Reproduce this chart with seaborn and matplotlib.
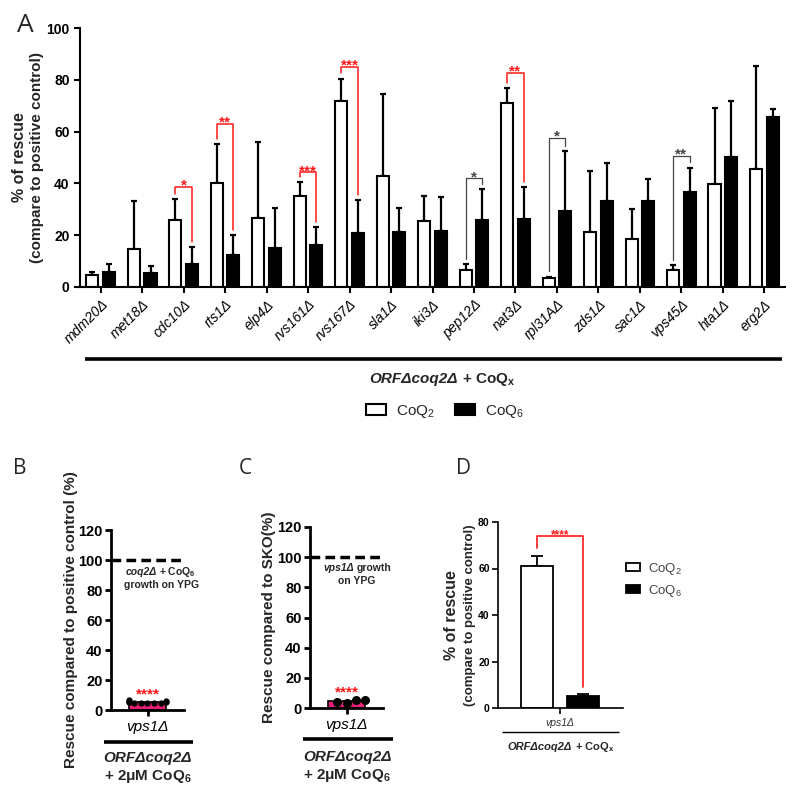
import warnings

import matplotlib
matplotlib.use("Agg")
import matplotlib.pyplot as plt
import pandas as pd
import seaborn as sns
from matplotlib.container import BarContainer
from matplotlib.lines import Line2D

warnings.filterwarnings("ignore")

# ---- panel A: ORF-delta coq2-delta double mutants
genes = ["mdm20Δ", "met18Δ", "cdc10Δ", "rts1Δ", "elp4Δ", "rvs161Δ", "rvs167Δ", "sla1Δ",
         "iki3Δ", "pep12Δ", "nat3Δ", "rpl31AΔ", "zds1Δ", "sac1Δ", "vps45Δ", "hta1Δ", "erg2Δ"]
coq2_mean = [4.5, 14.6, 25.8, 40.3, 26.8, 35.1, 72.0, 42.7, 25.4, 6.7, 71.0, 3.5, 21.4, 18.5, 6.7, 39.6, 45.4]
coq2_err = [1.3, 18.6, 8.2, 14.9, 29.3, 5.3, 8.5, 31.8, 9.8, 2.2, 5.8, 0.5, 23.4, 11.6, 1.7, 29.6, 40.1]
coq6_mean = [5.8, 5.5, 9.0, 12.3, 15.0, 16.4, 20.9, 21.2, 21.7, 25.8, 26.1, 29.4, 33.3, 33.3, 36.5, 50.1, 65.8]
coq6_err = [3.0, 2.5, 6.5, 7.6, 15.6, 6.7, 12.6, 9.4, 13.1, 12.0, 12.4, 23.1, 14.7, 8.4, 9.6, 21.9, 2.8]

sig_genes = ["cdc10Δ", "rts1Δ", "rvs161Δ", "rvs167Δ", "pep12Δ", "nat3Δ", "rpl31AΔ", "vps45Δ"]
sig_stars = ["*", "**", "***", "***", "*", "**", "*", "**"]
sig_tops = [38.7, 63.0, 44.3, 85.0, 42.0, 82.6, 57.7, 50.7]
sig_red = [True, True, True, True, False, True, False, False]

conditions = ["CoQ$_2$", "CoQ$_6$"]

# ---- panels B / C: vps1 single strain, individual replicates
b_points = [4.5, 5.0, 5.5, 5.0, 6.0, 6.5, 5.5, 4.5, 5.0, 5.5]
c_points = [5.0, 3.5, 4.0, 5.0]

# ---- panel D
d_means = [61.0, 5.3]
d_errs = [4.3, 0.8]
d_sig_top = 74.0

sns.set_style("ticks")
plt.rcParams["font.family"] = ["Liberation Sans", "DejaVu Sans"]
plt.rcParams.update({
    "mathtext.fontset": "custom",
    "mathtext.rm": "Liberation Sans",
    "mathtext.it": "Liberation Sans:italic",
    "mathtext.bf": "Liberation Sans:bold",
    "axes.edgecolor": "black",
    "xtick.color": "black",
    "ytick.color": "black",
})

RED = "#ff1a1a"
PINK = "#e91e7a"
W, H = 800, 798
fig = plt.figure(figsize=(8, 7.98), dpi=100)
renderer = fig.canvas.get_renderer()


def px_axes(x0, y0, x1, y1):
    return fig.add_axes([x0 / W, 1 - y1 / H, (x1 - x0) / W, (y1 - y0) / H])


def hline_px(x0, x1, y, lw):
    fig.add_artist(Line2D([x0 / W, x1 / W], [1 - y / H, 1 - y / H], color="black", lw=lw,
                          transform=fig.transFigure, solid_capstyle="butt"))


def rich_text(xc, y, parts, size, gap=0.28):
    # several bold chunks with different styles, centred as one line
    texts = [fig.text(0, 1 - y / H, s, fontsize=size, fontweight="bold", fontstyle=st,
                      ha="left", va="baseline") for s, st in parts]
    widths = [t.get_window_extent(renderer).width for t in texts]
    space = gap * size * 100 / 72
    total = sum(widths) + space * (len(texts) - 1)
    x = xc - total / 2
    for t, w in zip(texts, widths):
        t.set_x(x / W)
        x += w + space


def style_axis(ax, lw, labelsize):
    sns.despine(ax=ax)
    for side in ["left", "bottom"]:
        ax.spines[side].set_linewidth(lw)
    ax.tick_params(axis="both", width=lw, length=4, labelsize=labelsize)
    for t in ax.get_yticklabels():
        t.set_fontweight("bold")
    ax.set_xlabel("")
    ax.set_ylabel("")


def bar_centers(ax):
    bars = [c for c in ax.containers if isinstance(c, BarContainer)]
    return [[b.get_x() + b.get_width() / 2 for b in c] for c in bars]


def add_errorbars(ax, errs_per_hue, lw, capsize):
    bars = [c for c in ax.containers if isinstance(c, BarContainer)]
    for cont, errs in zip(bars, errs_per_hue):
        xs = [b.get_x() + b.get_width() / 2 for b in cont]
        ys = [b.get_height() for b in cont]
        ax.errorbar(xs, ys, yerr=[[0] * len(errs), errs], fmt="none", ecolor="black",
                    elinewidth=lw, capsize=capsize, capthick=lw, zorder=0.5)


# ================= A
dfA = pd.DataFrame({
    "gene": genes * 2,
    "cond": [conditions[0]] * len(genes) + [conditions[1]] * len(genes),
    "value": coq2_mean + coq6_mean,
})
axA = px_axes(80, 28, 785, 287)
sns.barplot(data=dfA, x="gene", y="value", hue="cond", palette=["white", "black"],
            edgecolor="black", linewidth=1.5, width=0.8, gap=0.27, errorbar=None,
            saturation=1, ax=axA)
x2, x6 = bar_centers(axA)
add_errorbars(axA, [coq2_err, coq6_err], 1.6, 2)

for g, stars, top, red in zip(sig_genes, sig_stars, sig_tops, sig_red):
    i = genes.index(g)
    col = RED if red else "#444444"
    y2 = coq2_mean[i] + coq2_err[i] + 2
    y6 = coq6_mean[i] + coq6_err[i] + 2
    axA.plot([x2[i], x2[i], x6[i], x6[i]], [y2, top, top, y6], color=col,
             lw=1.1 if red else 0.9, clip_on=False)
    axA.annotate(stars, xy=((x2[i] + x6[i]) / 2, top), xytext=(0, -2), textcoords="offset points",
                 ha="center", va="baseline", color=col, fontsize=11, fontweight="bold")

axA.set_xlim(-0.5, 16.5)
axA.set_ylim(0, 100)
axA.set_yticks(range(0, 101, 20))
style_axis(axA, 1.5, 10)
axA.set_xticks(range(len(genes)))
axA.set_xticklabels(genes, rotation=45, ha="right", rotation_mode="anchor",
                    fontstyle="italic", fontsize=10)
axA.text(-0.086, 0.5, "% of rescue", transform=axA.transAxes, rotation=90,
         ha="center", va="center", fontsize=11.5, fontweight="bold")
axA.text(-0.061, 0.5, "(compare to positive control)", transform=axA.transAxes, rotation=90,
         ha="center", va="center", fontsize=11, fontweight="bold")
sns.move_legend(axA, "center", bbox_to_anchor=(445 / W, 1 - 411 / H),
                bbox_transform=fig.transFigure, ncol=2, frameon=False, title=None,
                fontsize=11, handlelength=1.3, handleheight=0.75, handletextpad=0.7,
                columnspacing=1.3)

hline_px(85, 782, 359, 2.6)
rich_text(442, 383, [("ORFΔcoq2Δ", "italic"), ("+ CoQ$_\\mathbf{x}$", "normal")], 11)

# ================= B
axB = px_axes(111, 530, 184, 710)
strainB = ["vps1Δ"] * len(b_points)
sns.barplot(x=strainB, y=b_points, color=PINK, edgecolor="black", linewidth=1.2,
            errorbar=None, width=0.8, saturation=1, ax=axB)
sns.swarmplot(x=strainB, y=b_points, color="black", size=4.5, ax=axB)
axB.axhline(100, color="black", lw=2.5, ls=(0, (2.8, 1.5)))
axB.set_xlim(-0.8, 0.8)
axB.set_ylim(0, 120)
axB.set_yticks(range(0, 121, 20))
style_axis(axB, 2.0, 10.5)
axB.tick_params(axis="y", pad=2)
axB.tick_params(axis="x", labelsize=11)
for t in axB.get_xticklabels():
    t.set_fontstyle("italic")
axB.text(0, 10.5, "****", ha="center", va="center", color=RED, fontsize=11, fontweight="bold")
axB.set_ylabel("Rescue compared to positive control (%)", fontsize=11, fontweight="bold")
axB.yaxis.set_label_coords(-0.45, 0.5)
rich_text(161, 575, [("coq2Δ", "italic"), ("+ CoQ$_\\mathbf{6}$", "normal")], 7.5, gap=0.2)
fig.text(161 / W, 1 - 588 / H, "growth on YPG", fontsize=7.5, fontweight="bold",
         ha="center", va="baseline")
hline_px(104, 193, 742, 2.6)
fig.text(148 / W, 1 - 762 / H, "ORFΔcoq2Δ", fontsize=11, fontweight="bold",
         fontstyle="italic", ha="center", va="baseline")
fig.text(148 / W, 1 - 780 / H, "+ 2μM CoQ$_\\mathbf{6}$", fontsize=11, fontweight="bold",
         ha="center", va="baseline")

# ================= C
axC = px_axes(310, 527, 383, 708)
strainC = ["vps1Δ"] * len(c_points)
sns.barplot(x=strainC, y=c_points, color=PINK, edgecolor="black", linewidth=1.2,
            errorbar=None, width=0.8, saturation=1, ax=axC)
sns.swarmplot(x=strainC, y=c_points, color="black", size=6.5, ax=axC)
axC.axhline(100, color="black", lw=2.5, ls=(0, (2.8, 1.5)))
axC.set_xlim(-0.8, 0.8)
axC.set_ylim(0, 120)
axC.set_yticks(range(0, 121, 20))
style_axis(axC, 2.0, 10.5)
axC.tick_params(axis="y", pad=2)
axC.tick_params(axis="x", labelsize=11)
for t in axC.get_xticklabels():
    t.set_fontstyle("italic")
axC.text(0, 10.5, "****", ha="center", va="center", color=RED, fontsize=11, fontweight="bold")
axC.set_ylabel("Rescue compared to SKO(%)", fontsize=11, fontweight="bold")
axC.yaxis.set_label_coords(-0.46, 0.5)
rich_text(357, 571, [("vps1Δ", "italic"), ("growth", "normal")], 7.5, gap=0.25)
fig.text(357 / W, 1 - 584 / H, "on YPG", fontsize=7.5, fontweight="bold",
         ha="center", va="baseline")
hline_px(303, 393, 739, 2.6)
fig.text(347 / W, 1 - 761 / H, "ORFΔcoq2Δ", fontsize=11, fontweight="bold",
         fontstyle="italic", ha="center", va="baseline")
fig.text(347 / W, 1 - 779 / H, "+ 2μM CoQ$_\\mathbf{6}$", fontsize=11, fontweight="bold",
         ha="center", va="baseline")

# ================= D
dfD = pd.DataFrame({"strain": ["vps1Δ"] * 2, "cond": conditions, "value": d_means})
axD = px_axes(498, 522, 623, 708)
sns.barplot(data=dfD, x="strain", y="value", hue="cond", palette=["white", "black"],
            edgecolor="black", linewidth=1.3, width=0.8, gap=0.3, errorbar=None,
            saturation=1, ax=axD)
bx = [c[0] for c in bar_centers(axD)]
add_errorbars(axD, [[d_errs[0]], [d_errs[1]]], 1.3, 4)
axD.plot([bx[0], bx[0], bx[1], bx[1]],
         [d_means[0] + d_errs[0] + 3.5, d_sig_top, d_sig_top, d_means[1] + d_errs[1] + 3],
         color=RED, lw=1.2, clip_on=False)
axD.annotate("****", xy=(sum(bx) / 2, d_sig_top), xytext=(0, -1.5), textcoords="offset points",
             ha="center", va="baseline", color=RED, fontsize=8.5, fontweight="bold")
axD.set_xlim(-0.54, 0.55)
axD.set_ylim(0, 80)
axD.set_yticks(range(0, 81, 20))
style_axis(axD, 1.2, 7.5)
axD.tick_params(axis="y", pad=2)
for t in axD.get_xticklabels():
    t.set_fontstyle("italic")
    t.set_color("#333333")
axD.text(-0.375, 0.5, "% of rescue", transform=axD.transAxes, rotation=90,
         ha="center", va="center", fontsize=11.5, fontweight="bold")
axD.text(-0.225, 0.5, "(compare to positive control)", transform=axD.transAxes, rotation=90,
         ha="center", va="center", fontsize=9.5, fontweight="bold")
sns.move_legend(axD, "upper left", bbox_to_anchor=(614 / W, 1 - 549 / H),
                bbox_transform=fig.transFigure, ncol=1, frameon=False, title=None,
                fontsize=9.5, handlelength=1.1, handleheight=0.6, labelspacing=0.45,
                handletextpad=0.6, labelcolor="#444444")
hline_px(502, 619, 732, 1.0)
rich_text(561, 750, [("ORFΔcoq2Δ", "italic"), ("+ CoQ$_\\mathbf{x}$", "normal")], 8)

# panel letters
for letter, x, y, size in [("A", 25, 25, 19), ("B", 20, 468, 15), ("C", 245, 468, 15), ("D", 463, 468, 15)]:
    fig.text(x / W, 1 - y / H, letter, fontsize=size, family="Open Sans", ha="center", va="center")

fig.savefig("out.png", dpi=100)
